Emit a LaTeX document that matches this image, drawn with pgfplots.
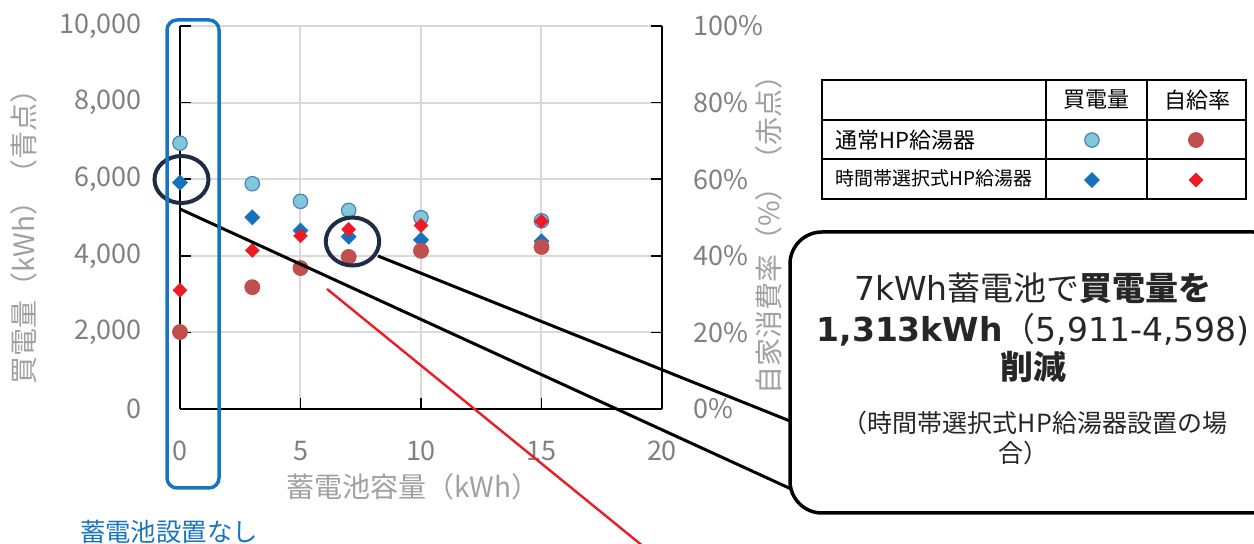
\documentclass[border=0pt]{standalone}
\usepackage{fontspec}
\setmainfont{Noto Sans CJK JP}
\newfontfamily\dv{DejaVu Sans}
\usepackage{pgfplots}
\pgfplotsset{compat=1.18}

\definecolor{lblue}{RGB}{127,199,217}
\definecolor{lbedge}{RGB}{79,129,189}
\definecolor{cbrown}{RGB}{192,80,77}
\definecolor{dblue}{RGB}{23,114,189}
\definecolor{dred}{RGB}{237,28,36}
\definecolor{navy}{RGB}{31,45,68}
\definecolor{annblue}{RGB}{24,116,193}
\definecolor{tickgray}{RGB}{128,128,128}
\definecolor{labgray}{RGB}{160,160,160}
\definecolor{gridgray}{RGB}{217,217,217}

\newcommand\tickfont{\fontsize{13.5pt}{16pt}\selectfont}
\newcommand\labfont{\fontsize{14pt}{16pt}\selectfont}

\pgfplotsset{
  lbstyle/.style={only marks, mark=*, mark size=3.6pt, mark options={fill=lblue, draw=lbedge, line width=0.6pt}},
  bdstyle/.style={only marks, mark=square*, mark size=2.6pt, mark options={rotate=45, fill=dblue, draw=dblue}},
  brstyle/.style={only marks, mark=*, mark size=3.75pt, mark options={fill=cbrown, draw=cbrown}},
  rdstyle/.style={only marks, mark=square*, mark size=2.4pt, mark options={rotate=45, fill=dred, draw=dred}},
  common/.style={
    at={(90pt,-204.5pt)}, anchor=south west, scale only axis,
    width=241pt, height=191.5pt,
    xmin=0, xmax=20, clip=false,
    tick align=inside, major tick length=5.5pt,
    tick style={black, line width=0.8pt},
    axis line style={black, line width=0.8pt},
    /pgf/number format/assume math mode=true,
  }
}

\begin{document}
\begin{tikzpicture}
\path[use as bounding box] (0,0) rectangle (627pt,-272pt);

\begin{axis}[common,
  ymin=0, ymax=10000,
  axis x line*=bottom, axis y line*=left,
  xtick={0,5,10,15,20},
  ytick={0,2000,4000,6000,8000,10000},
  scaled y ticks=false,
  /pgf/number format/1000 sep={,},
  grid=major, grid style={gridgray, line width=1pt},
  yticklabel style={font=\tickfont, text=tickgray, xshift=-15.5pt},
  xticklabel style={font=\tickfont, text=tickgray, yshift=-12.5pt},
  xlabel={蓄電池容量（kWh）},
  xlabel style={font=\labfont, text=labgray, at={(axis description cs:0.483,-0.2037)}, anchor=center},
  ylabel={買電量（kWh）（青点）},
  ylabel style={font=\labfont, text=labgray, at={(axis description cs:-0.3237,0.467)}, anchor=center},
]
\addplot[lbstyle] coordinates {(0,6941)(3,5882)(5,5421)(7,5186)(10,4995)(15,4914)};
\addplot[bdstyle] coordinates {(0,5911)(3,5005)(5,4661)(7,4500)(10,4415)(15,4380)};
\end{axis}

\begin{axis}[common,
  ymin=0, ymax=100,
  axis x line=none, axis y line*=right,
  ytick={0,20,40,60,80,100},
  yticklabel={\pgfmathprintnumber{\tick}\%},
  yticklabel style={font=\tickfont, text=tickgray, xshift=12pt},
  ylabel={自家消費率（\%）（赤点）},
  ylabel style={font=\labfont, text=labgray, at={(axis description cs:1.222,0.4726)}, anchor=center},
  legend columns=2,
  legend image code/.code={\path[draw=none, fill=none] (-25.5pt,-10pt) rectangle (25.5pt,10pt); \draw[#1] plot coordinates {(0pt,0pt)};},
  legend style={at={(axis description cs:2.002,0.650)}, anchor=center, draw=none, fill=none,
    inner sep=0pt, outer sep=0pt, column sep=0pt, row sep=0pt, nodes={inner sep=0pt}},
]
\addlegendimage{lbstyle}\addlegendentry{}
\addlegendimage{brstyle}\addlegendentry{}
\addlegendimage{bdstyle}\addlegendentry{}
\addlegendimage{rdstyle}\addlegendentry{}
\addplot[brstyle, forget plot] coordinates {(0,20.1)(3,31.8)(5,36.8)(7,39.7)(10,41.3)(15,42.3)};
\addplot[rdstyle, forget plot] coordinates {(0,31.0)(3,41.4)(5,45.2)(7,46.9)(10,47.9)(15,49.0)};
\end{axis}

\begin{scope}[x=0.5pt, y=-0.5pt]
  % annotation lines
  \draw[black, line width=1.5pt] (180,209) -- (800,493);
  \draw[black, line width=1.5pt] (378,256) -- (790,421);
  \draw[dred, line width=1.2pt] (327,289) -- (660,560);
  % ellipses
  \draw[navy, line width=2pt] (181.5,179.5) ellipse [x radius=27, y radius=23.5];
  \draw[navy, line width=2pt] (352.5,241.5) ellipse [x radius=26.7, y radius=24];
  % blue frame
  \draw[annblue, line width=1.75pt, rounded corners=5pt] (167,20) rectangle (219,488);
  \node[annblue, font=\fontsize{12.7pt}{14pt}\selectfont, inner sep=0pt] at (169,532) {蓄電池設置なし};
  % table
  \draw[black, line width=1pt] (822,80) rectangle (1246,199);
  \draw[black, line width=1pt] (822,120) -- (1246,120) (822,159) -- (1246,159)
     (1046,80) -- (1046,199) (1147,80) -- (1147,199);
  \node[font=\fontsize{11pt}{13pt}\selectfont, inner sep=0pt] at (1096,100) {買電量};
  \node[font=\fontsize{11pt}{13pt}\selectfont, inner sep=0pt] at (1197,100) {自給率};
  \node[font=\fontsize{11pt}{13pt}\selectfont, inner sep=0pt, anchor=west] at (835,140) {通常HP給湯器};
  \node[font=\fontsize{9.5pt}{11pt}\selectfont, inner sep=0pt, anchor=west] at (835,178) {時間帯選択式HP給湯器};
  % callout
  \draw[black, line width=1.75pt, fill=white, rounded corners=16pt] (790,232) rectangle (1285,513);
  \node[font=\fontsize{16.5pt}{19pt}\selectfont, inner sep=0pt, text=black!85] at (1033,288) {{\dv 7kWh}蓄電池で\textbf{買電量を}};
  \node[font=\fontsize{16.5pt}{19pt}\selectfont, inner sep=0pt, text=black!85] at (1033,330) {{\dv\bfseries 1,313kWh}（{\dv 5,911-4,598)}};
  \node[font=\fontsize{16.5pt}{19pt}\selectfont, inner sep=0pt, text=black!85] at (1033,367) {\textbf{削減}};
  \node[font=\fontsize{12.5pt}{15pt}\selectfont, inner sep=0pt, text=black!85] at (1035,423) {（時間帯選択式HP給湯器設置の場};
  \node[font=\fontsize{12.5pt}{15pt}\selectfont, inner sep=0pt, text=black!85] at (1023,453) {合）};
\end{scope}
\end{tikzpicture}
\end{document}
